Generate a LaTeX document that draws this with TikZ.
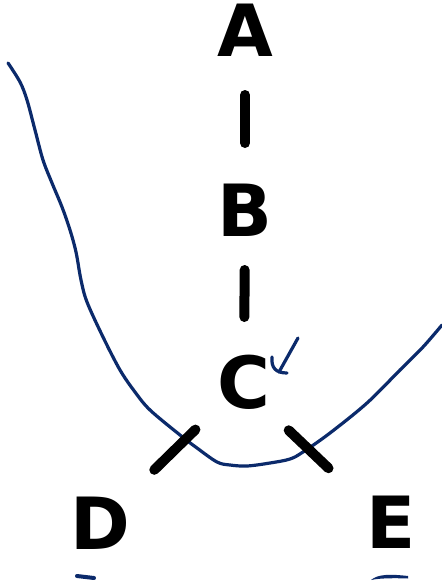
\documentclass[tikz,border=0pt]{standalone}
\usepackage{fontspec}
\setmainfont{DejaVu Sans}
\definecolor{ink}{HTML}{0B2A6B}
\tikzset{
  letter/.style={inner sep=0pt, font=\fontsize{72}{72}\selectfont\bfseries, text=black},
  bar/.style={line width=10pt, line cap=round, black},
  pen/.style={ink, line width=3.2pt, line cap=round, line join=round}
}
\begin{document}
\begin{tikzpicture}[x=1pt,y=-1pt]
\useasboundingbox[fill=white] (0,0) rectangle (442,584);
% curve
\draw[pen] plot[smooth, tension=0.55] coordinates {(8,63) (20,82) (27,100) (35,130) (43,160) (52,183) (62,207) (70,230) (76,252) (81,280) (87,302) (103,337) (120,370) (135,392) (150,410) (180,435) (197,448) (217,462) (230,465) (247,466) (270,463) (290,459) (303,452) (330,433) (367,403) (400,370) (423,347) (442,325)};
% letters
\node[letter] (A) at (245,30) {A};
\node[letter] (B) at (245,210) {B};
\node[letter] (C) at (244,382) {C};
\node[letter] (D) at (100,523) {D};
\node[letter] (E) at (391,522) {E};
% connectors
\draw[bar, shorten <=65pt, shorten >=67pt] (A.center) -- (B.center);
\draw[bar, shorten <=60pt, shorten >=65pt] (B.center) -- (C.center);
\draw[bar, shorten <=68pt, shorten >=76pt] (C.center) -- (D.center);
\draw[bar, shorten <=70pt, shorten >=78pt] ([xshift=-6pt]C.center) -- ([xshift=-6pt]E.center);
% check mark
\draw[pen] (298,338) -- (279,372);
\draw[pen] (272,357) .. controls (271,368) and (276,373) .. (287,373);
% dashes at bottom
\draw[ink, line width=4pt, line cap=round] (77,576) -- (94,578);
\fill[ink] (371,580) .. controls (378,574) and (390,574) .. (408,576) -- (408,578.5) .. controls (395,578) and (380,578) .. cycle;
\end{tikzpicture}
\end{document}
